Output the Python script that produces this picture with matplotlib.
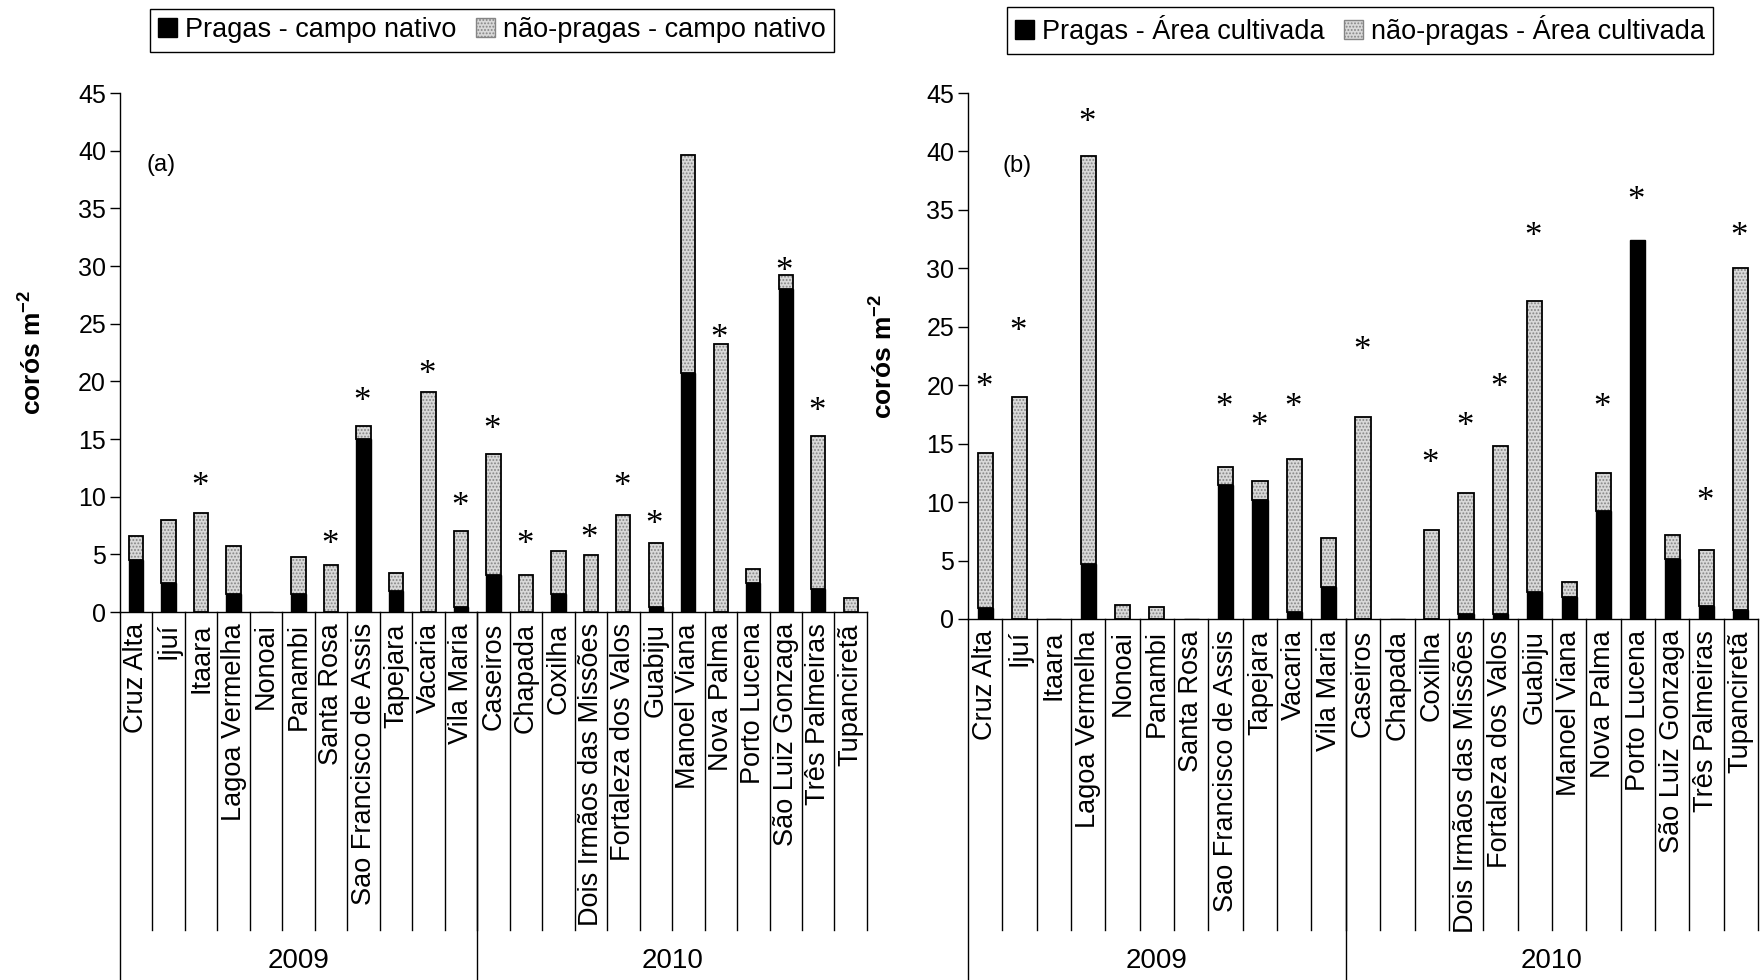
import numpy as np
import matplotlib
matplotlib.use('Agg')
import matplotlib.pyplot as plt
from matplotlib.patches import Patch
from matplotlib.transforms import blended_transform_factory

plt.rcParams['font.family'] = ['Liberation Sans', 'DejaVu Sans']
plt.rcParams['mathtext.fontset'] = 'custom'
plt.rcParams['mathtext.rm'] = 'Liberation Sans'
plt.rcParams['mathtext.bf'] = 'Liberation Sans:bold'
plt.rcParams['hatch.linewidth'] = 0.9

# DATA
cities = ['Cruz Alta', 'Ijuí', 'Itaara', 'Lagoa Vermelha', 'Nonoai', 'Panambi',
          'Santa Rosa', 'Sao Francisco de Assis', 'Tapejara', 'Vacaria', 'Vila Maria',
          'Caseiros', 'Chapada', 'Coxilha', 'Dois Irmãos das Missões',
          'Fortaleza dos Valos', 'Guabiju', 'Manoel Viana', 'Nova Palma',
          'Porto Lucena', 'São Luiz Gonzaga', 'Três Palmeiras', 'Tupanciretã']
years = ['2009', '2010']
n_per_year = [11, 12]

# (a) campo nativo
pest_a = [4.5, 2.5, 0, 1.6, 0, 1.6, 0, 15.0, 1.8, 0, 0.4,
          3.2, 0, 1.6, 0, 0, 0.4, 20.7, 0, 2.5, 28.0, 2.0, 0]
nonpest_a = [2.1, 5.5, 8.6, 4.1, 0, 3.2, 4.1, 1.1, 1.6, 19.1, 6.6,
             10.5, 3.2, 3.7, 4.9, 8.4, 5.6, 18.9, 23.2, 1.2, 1.2, 13.3, 1.2]
star_a = [None, None, 11.4, None, None, None, 6.4, 18.8, None, 21.1, 9.7,
          16.3, 6.4, None, 6.9, 11.4, 8.1, None, 24.2, None, 30.0, 17.9, None]

# (b) area cultivada
pest_b = [0.9, 0, 0, 4.7, 0, 0, 0, 11.5, 10.2, 0.6, 2.7,
          0, 0, 0, 0.4, 0.4, 2.3, 1.9, 9.2, 32.4, 5.1, 1.1, 0.8]
nonpest_b = [13.3, 19.0, 0, 34.9, 1.2, 1.0, 0, 1.5, 1.6, 13.1, 4.2,
             17.3, 0, 7.6, 10.4, 14.4, 24.9, 1.3, 3.3, 0, 2.1, 4.8, 29.2]
star_b = [20.3, 25.1, None, 43.0, None, None, None, 18.6, 17.0, 18.6, None,
          23.5, None, 13.8, 17.0, 20.3, 33.2, None, 18.6, 36.3, None, 10.6, 33.2]

fig = plt.figure(figsize=(17.61, 9.80), dpi=100)
ax1 = fig.add_axes([0.0681, 0.3755, 0.4242, 0.5296])
ax2 = fig.add_axes([0.5497, 0.3684, 0.4486, 0.5367])

GRAY = '#d9d9d9'
HATCH_C = '#858585'


def panel(ax, pest, nonpest, stars, tag, tag_x, labels, leg_x, ylab_x):
    x = np.arange(len(cities))
    w = 0.44
    ax.bar(x, pest, w, color='black', edgecolor='black', linewidth=1)
    ax.bar(x, nonpest, w, bottom=pest, color=GRAY, edgecolor=HATCH_C,
           hatch='.....', linewidth=0)
    tops = np.array(pest) + np.array(nonpest)
    for xi, p, t in zip(x, pest, tops):
        if t - p > 0:
            ax.bar(xi, t - p, w, bottom=p, fill=False, edgecolor='black', linewidth=1.3)
    for xi, s in zip(x, stars):
        if s is not None:
            ax.annotate('*', (xi, s), xytext=(-1, -5), textcoords='offset points',
                        ha='center', va='center', fontsize=25, family='Liberation Serif')

    ax.set_xlim(-0.5, len(cities) - 0.5)
    ax.set_ylim(0, 45)
    ax.set_yticks(np.arange(0, 46, 5))
    ax.tick_params(axis='y', direction='out', length=7, width=1, labelsize=18, pad=3)
    ax.set_xticks(x)
    ax.set_xticklabels(cities, rotation=90, fontsize=19.5, va='top', ha='center')
    ax.tick_params(axis='x', length=0, pad=8)
    for sp in ['top', 'right']:
        ax.spines[sp].set_visible(False)
    ax.spines['left'].set_linewidth(1)
    ax.spines['bottom'].set_linewidth(1)

    ax.set_ylabel('corós m$^{\\mathbf{-2}}$', fontsize=19, fontweight='bold')
    ax.yaxis.set_label_coords(ylab_x, 0.5)
    ax.text(tag_x, 0.862, tag, transform=ax.transAxes,
            fontsize=17, va='center', ha='left')

    # category separators and year groups
    tr = blended_transform_factory(ax.transData, fig.transFigure)
    y0 = ax.get_position().y0
    for b in np.arange(0.5, len(cities) - 0.5, 1.0):
        ax.plot([b, b], [y0, 0.051], transform=tr, color='black', lw=1, clip_on=False)
    ax.plot([len(cities) - 0.5] * 2, [y0, 0.051], transform=tr, color='black', lw=1, clip_on=False)
    start = -0.5
    for yr, n in zip(years, n_per_year):
        ax.plot([start, start], [y0, 0.0], transform=tr, color='black', lw=1, clip_on=False)
        ax.text(start + n / 2, 0.019, yr, transform=tr, ha='center', va='center',
                fontsize=20)
        start += n

    handles = [Patch(facecolor='black', edgecolor='black'),
               Patch(facecolor=GRAY, edgecolor=HATCH_C, hatch='.....')]
    leg = fig.legend(handles, labels, loc='center', bbox_to_anchor=(leg_x, 0.969), ncol=2,
                     frameon=True, fancybox=False, edgecolor='black', framealpha=1,
                     handlelength=0.7, handleheight=0.7, handletextpad=0.3,
                     columnspacing=0.7, borderpad=0.3, prop={'size': 19.5})
    leg.get_frame().set_linewidth(1)


panel(ax1, pest_a, nonpest_a, star_a, '(a)', 0.035,
      ['Pragas - campo nativo', 'não-pragas - campo nativo'], 0.2794, -0.099)
panel(ax2, pest_b, nonpest_b, star_b, '(b)', 0.044,
      ['Pragas - Área cultivada', 'não-pragas - Área cultivada'], 0.7723, -0.09)

fig.savefig('out.png', dpi=100)
